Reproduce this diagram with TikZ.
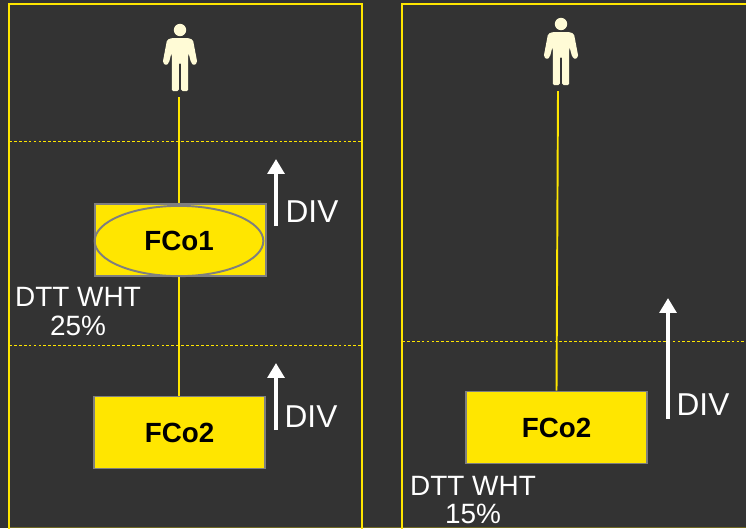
\documentclass[tikz,border=0pt]{standalone}
\usepackage{fontspec}
\setmainfont{Liberation Sans}
\usetikzlibrary{arrows.meta, shapes.geometric}
\definecolor{panelbg}{HTML}{333333}
\definecolor{fcoyellow}{HTML}{FFE600}
\definecolor{edgegray}{HTML}{7F7F7F}
\definecolor{personcol}{HTML}{FFFBD6}
\tikzset{
    fcobox/.style={draw=edgegray, line width=1.1pt, fill=fcoyellow, inner sep=0pt, font=\fontsize{15.8}{18}\selectfont\bfseries, text=black},
    panel/.style={draw=fcoyellow, line width=1.13pt},
    tier/.style={draw=fcoyellow, line width=0.55pt, dash pattern=on 1.6pt off 1.2pt},
    link/.style={draw=fcoyellow, line width=1.1pt},
    divarrow/.style={draw=white, line width=2.8pt, -{Triangle[length=8.5pt,width=9.5pt]}},
    divlabel/.style={text=white, inner sep=0pt, font=\fontsize{18}{20}\selectfont},
    wht/.style={text=white, inner sep=0pt, align=center, font=\fontsize{15.9}{16.5}\selectfont},
    personnode/.style={inner sep=0pt, minimum width=20pt, minimum height=40pt, anchor=south}
}
\newcommand{\personicon}[2]{
    \begin{scope}[shift={(#1,#2)}]
    \fill[personcol] (0,0) circle (6.2);
    \fill[personcol, rounded corners=0.8pt] (-8.5,8) -- (8.5,8) -- (13,10) -- (17.3,32.5) -- (14,35.5) -- (11,32.5) -- (8.6,23) -- (8.2,25) -- (8.2,61) -- (1.2,61) -- (1.2,33) -- (-1.2,33) -- (-1.2,61) -- (-8.2,61) -- (-8.2,25) -- (-8.6,23) -- (-11,32.5) -- (-14,35.5) -- (-17.3,32.5) -- (-13,10) -- cycle;
    \end{scope}
}
\begin{document}
\begin{tikzpicture}[x=0.02cm, y=-0.02cm]
    \useasboundingbox (0,0) rectangle (746,528);
    \fill[panelbg] (0,0) rectangle (746,528);
    % panels
    \draw[fcoyellow!30!panelbg, line width=0.57pt] (9,527.5) -- (746,527.5);
    \draw[panel] (9,532) -- (9,4) -- (362,4) -- (362,532);
    \draw[panel] (402,532) -- (402,4) -- (750,4);
    \draw[tier] (9,141) -- (362,141);
    \draw[tier] (9,345) -- (362,345);
    \draw[tier] (402,341) -- (746,341);
    % left panel
    \personicon{180}{30}
    \node[personnode] (pers1) at (179,97) {};
    \node[fcobox, minimum width=97pt, minimum height=41pt] (fco1) at (180.5,240) {};
    \node[fcobox, ellipse, fill=none, minimum width=96pt, minimum height=40pt] (fco1e) at (179,241) {FCo1};
    \node[fcobox, minimum width=97pt, minimum height=41pt] (fco2) at (179.5,432.5) {FCo2};
    \draw[link] (pers1.south) -- (pers1.south |- fco1.north);
    \draw[link] (fco1.south -| pers1.south) -- (fco2.north -| pers1.south);
    \coordinate (d1a) at (276,226);
    \coordinate (d1b) at (276,159);
    \coordinate (d2a) at (276,430);
    \coordinate (d2b) at (276,363);
    \draw[divarrow] (d1a) -- (d1b);
    \draw[divarrow] (d2a) -- (d2b);
    \node[divlabel] (div1) at (312,212) {DIV};
    \node[divlabel] (div2) at (311,417) {DIV};
    \node[wht] (wht1) at (78,312) {DTT WHT\\25\%};
    % right panel
    \personicon{561}{24}
    \node[personnode] (pers2) at (558,91) {};
    \node[fcobox, minimum width=103.5pt, minimum height=41pt] (fco3) at (556.5,427.5) {FCo2};
    \draw[link] (pers2.south) -- (fco3.north);
    \coordinate (d3a) at (668,419);
    \coordinate (d3b) at (668,298);
    \draw[divarrow] (d3a) -- (d3b);
    \node[divlabel] (div3) at (703,405) {DIV};
    \node[wht, font=\fontsize{15.9}{16}\selectfont] (wht2) at (473,500) {DTT WHT\\15\%};
\end{tikzpicture}
\end{document}
